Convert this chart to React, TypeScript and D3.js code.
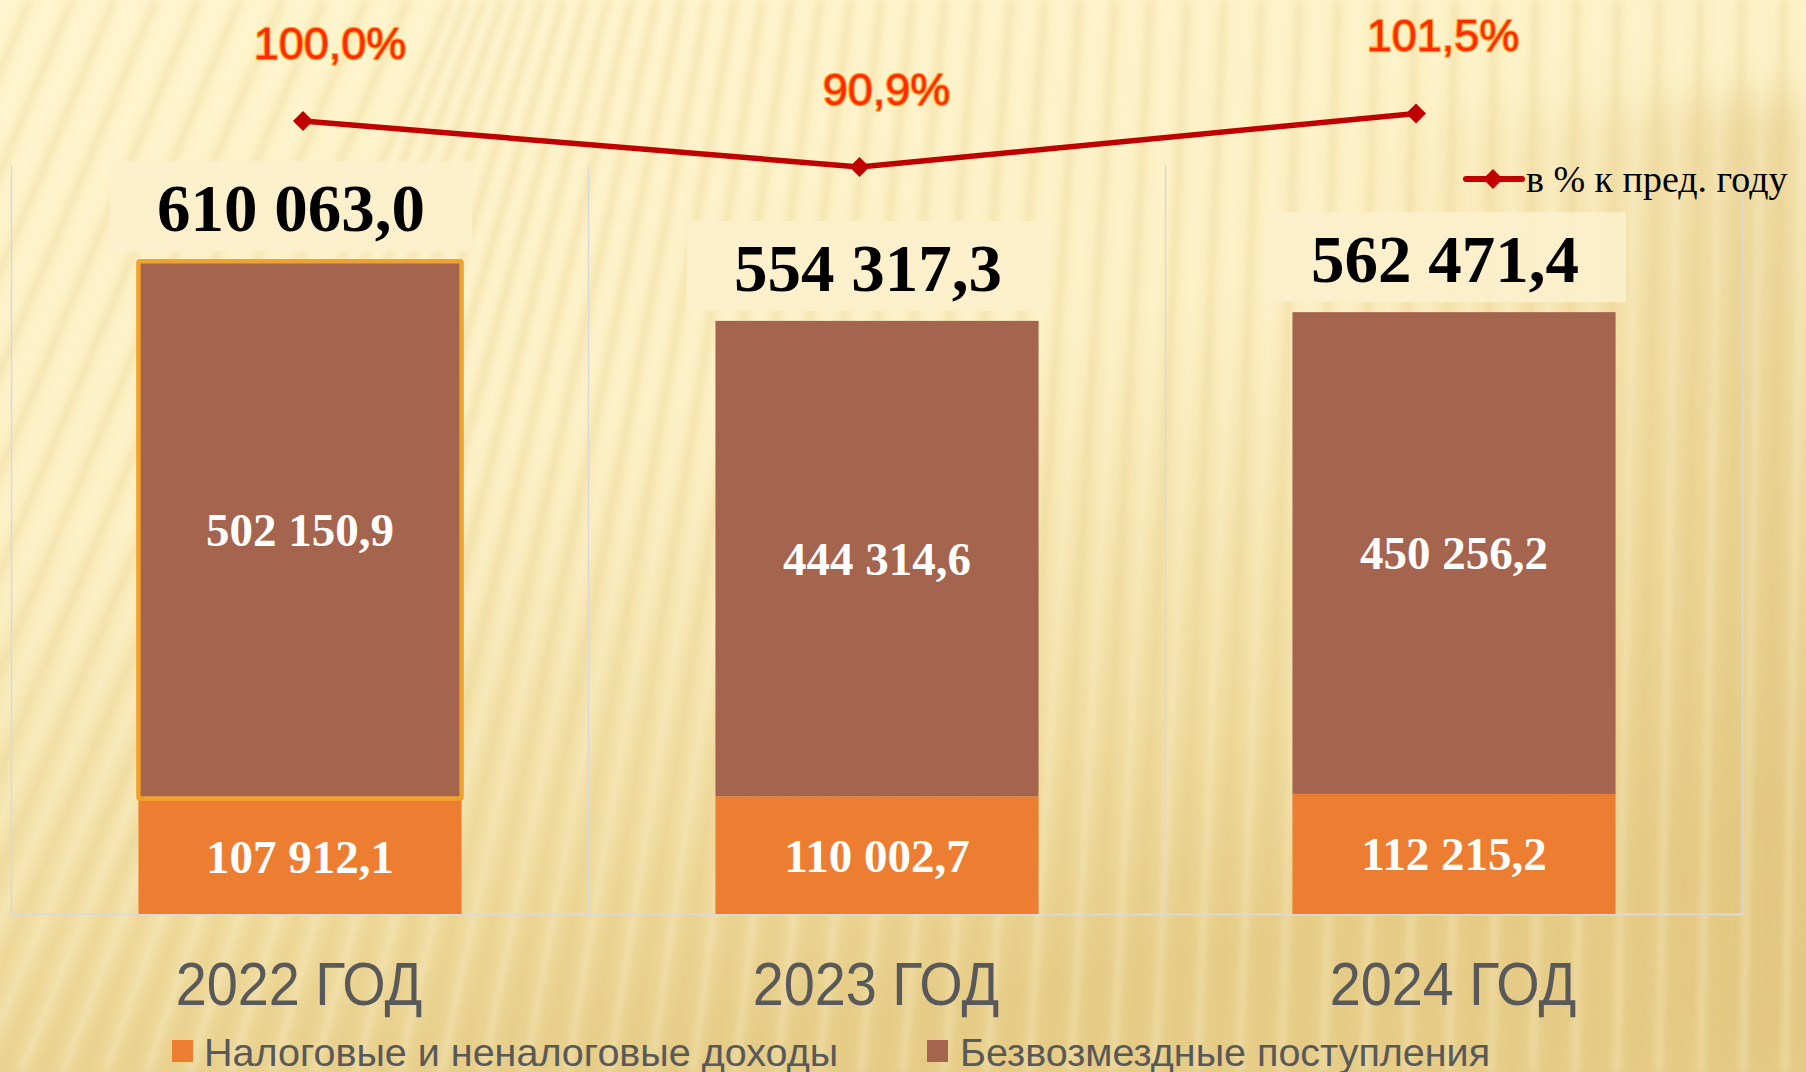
import React from "react";
import * as d3 from "d3";

const years = ["2022 ГОД", "2023 ГОД", "2024 ГОД"];
const taxIncome = [107912.1, 110002.7, 112215.2];
const grants = [502150.9, 444314.6, 450256.2];
const totals = [610063.0, 554317.3, 562471.4];
const pctPrev = [100.0, 90.9, 101.5];
const seriesNames = ["Налоговые и неналоговые доходы", "Безвозмездные поступления"];
const lineName = "в % к пред. году";

const W = 1806;
const H = 1072;
const ORANGE = "#ED7D31";
const BROWN = "#A5644E";
const GRAY = "#595959";

const ru = d3.formatLocale({ decimal: ",", thousands: " ", grouping: [3], currency: ["", ""] });
const fmtNum = ru.format(",.1f");
const fmtPct = (v: number) => ru.format(".1f")(v) + "%";

export default function App() {
  const plot = { left: 11.5, right: 1742.5, top: 165, bottom: 914 };
  const x = d3.scaleBand<string>().domain(years).range([plot.left, plot.right]).paddingInner(0).paddingOuter(0);
  const barW = x.bandwidth() * 0.56;
  const y = d3.scaleLinear().domain([0, 700000]).range([plot.bottom, plot.top]);
  const xl = d3.scalePoint<string>().domain(years).range([303, 1416]);
  const y2 = d3.scaleLinear().domain([80, 110]).range([222, 70.5]);

  const linePath = d3
    .line<number>()
    .x((_, i) => xl(years[i]) as number)
    .y((d) => y2(d))(pctPrev) as string;

  const diamondSq = "M0,-10L10,0L0,10L-10,0Z";

  // decorative background stripes
  const stripes = d3.range(-30, 100).map((i) => {
    const x0 = i * 21;
    const t = Math.max(0, Math.min(1, x0 / W));
    const slant = 430 * Math.pow(1 - t, 2.6) + 20;
    return { x0, x1: x0 + slant, dark: i % 2 === 0 };
  });

  const gridX = [...years.map((yr) => x(yr) as number), plot.right];

  return (
    <svg width={W} height={H} style={{ position: "absolute", left: 0, top: 0, display: "block" }}>
      <defs>
        <linearGradient id="bg" x1="0" y1="0" x2="0.35" y2="1">
          <stop offset="0" stopColor="#FEF4CB" />
          <stop offset="0.45" stopColor="#FCEFC2" />
          <stop offset="0.8" stopColor="#F0DCA0" />
          <stop offset="1" stopColor="#E6CD88" />
        </linearGradient>
        <linearGradient id="rightShade" x1="0" y1="0" x2="1" y2="0">
          <stop offset="0" stopColor="#E3C77F" stopOpacity="0" />
          <stop offset="0.6" stopColor="#E3C77F" stopOpacity="0.25" />
          <stop offset="1" stopColor="#DCC078" stopOpacity="0.55" />
        </linearGradient>
        <filter id="blur" x="-10%" y="-10%" width="120%" height="120%">
          <feGaussianBlur stdDeviation="3.5" />
        </filter>
        <filter id="blurBig" x="-20%" y="-20%" width="140%" height="140%">
          <feGaussianBlur stdDeviation="25" />
        </filter>
      </defs>

      <rect x={0} y={0} width={W} height={H} fill="url(#bg)" />
      <path d="M1400,120 L1806,95 L1806,1072 L1300,1072 Z" fill="url(#rightShade)" filter="url(#blurBig)" />
      <g filter="url(#blur)">
        {stripes.map((s, i) => (
          <line
            key={i}
            x1={s.x0}
            y1={H}
            x2={s.x1}
            y2={0}
            stroke={s.dark ? "#E2C57A" : "#FFF8DC"}
            strokeOpacity={s.dark ? 0.3 : 0.4}
            strokeWidth={s.dark ? 7 : 6}
          />
        ))}
      </g>

      {/* gridlines & border */}
      {gridX.map((gx, i) => (
        <line key={i} x1={gx} x2={gx} y1={plot.top} y2={plot.bottom} stroke="#D9D9D9" strokeWidth={1.5} />
      ))}
      <line x1={plot.left} x2={plot.right} y1={plot.bottom + 0.5} y2={plot.bottom + 0.5} stroke="#D9D9D9" strokeWidth={2} />

      {/* bars */}
      {years.map((yr, i) => {
        const cx = (x(yr) as number) + x.bandwidth() / 2;
        const x0 = cx - barW / 2;
        const yTax = y(taxIncome[i]);
        const yTot = y(taxIncome[i] + grants[i]);
        return (
          <g key={yr}>
            <rect x={x0} y={yTax} width={barW} height={plot.bottom - yTax} fill={ORANGE} />
            <rect
              x={x0}
              y={yTot}
              width={barW}
              height={yTax - yTot}
              fill={BROWN}
              stroke={i === 0 ? "#F0A22E" : "none"}
              strokeWidth={i === 0 ? 4.5 : 0}
              rx={i === 0 ? 1.5 : 0}
            />
            <text
              x={cx}
              y={(yTax + plot.bottom) / 2}
              dy="0.35em"
              textAnchor="middle"
              fill="#fff"
              fontFamily="'Liberation Serif', 'Times New Roman', serif"
              fontWeight="bold"
              fontSize={47}
            >
              {fmtNum(taxIncome[i])}
            </text>
            <text
              x={cx}
              y={(yTot + yTax) / 2}
              dy="0.35em"
              textAnchor="middle"
              fill="#fff"
              fontFamily="'Liberation Serif', 'Times New Roman', serif"
              fontWeight="bold"
              fontSize={47}
            >
              {fmtNum(grants[i])}
            </text>
            {/* total label */}
            <rect
              x={cx - 9 - 181}
              y={y(totals[i]) - 30 - 70}
              width={362}
              height={90}
              fill="#FCF0CD"
              fillOpacity={0.92}
            />
            <text
              x={cx - 9}
              y={y(totals[i]) - 30}
              textAnchor="middle"
              fill="#000"
              fontFamily="'Liberation Serif', 'Times New Roman', serif"
              fontWeight="bold"
              fontSize={67}
            >
              {fmtNum(totals[i])}
            </text>
            {/* category label */}
            <g transform={`translate(${cx - 1},1005) scale(0.9,1)`}>
              <text
                x={0}
                y={0}
                textAnchor="middle"
                fill={GRAY}
                fontFamily="'Liberation Sans', Arial, sans-serif"
                fontSize={62}
              >
                {yr}
              </text>
            </g>
          </g>
        );
      })}

      {/* line */}
      <path d={linePath} fill="none" stroke="#C00000" strokeWidth={5.5} strokeLinejoin="round" />
      {pctPrev.map((v, i) => {
        const px = xl(years[i]) as number;
        const py = y2(v);
        return (
          <g key={i}>
            <path d={diamondSq} transform={`translate(${px},${py})`} fill="#C00000" />
            <text
              x={px + 27}
              y={py - 62}
              textAnchor="middle"
              fill="#FF2A00"
              stroke="#FFA626"
              strokeWidth={2.5}
              paintOrder="stroke"
              strokeLinejoin="round"
              fontFamily="'Liberation Sans', Arial, sans-serif"
              fontSize={45}
            >
              {fmtPct(v)}
            </text>
          </g>
        );
      })}

      {/* line legend */}
      <line x1={1466} x2={1522} y1={179} y2={179} stroke="#C00000" strokeWidth={6} strokeLinecap="round" />
      <path d={diamondSq} transform="translate(1493,179)" fill="#C00000" />
      <text x={1526} y={192} fill="#000" fontFamily="'Liberation Serif', 'Times New Roman', serif" fontSize={38}>
        {lineName}
      </text>

      {/* bottom legend */}
      <rect x={172} y={1040} width={21} height={22} fill={ORANGE} />
      <text x={204} y={1066} fill={GRAY} fontFamily="'Liberation Sans', Arial, sans-serif" fontSize={39.5}>
        {seriesNames[0]}
      </text>
      <rect x={927} y={1040} width={21} height={22} fill={BROWN} />
      <text x={960} y={1066} fill={GRAY} fontFamily="'Liberation Sans', Arial, sans-serif" fontSize={39.5}>
        {seriesNames[1]}
      </text>
    </svg>
  );
}
